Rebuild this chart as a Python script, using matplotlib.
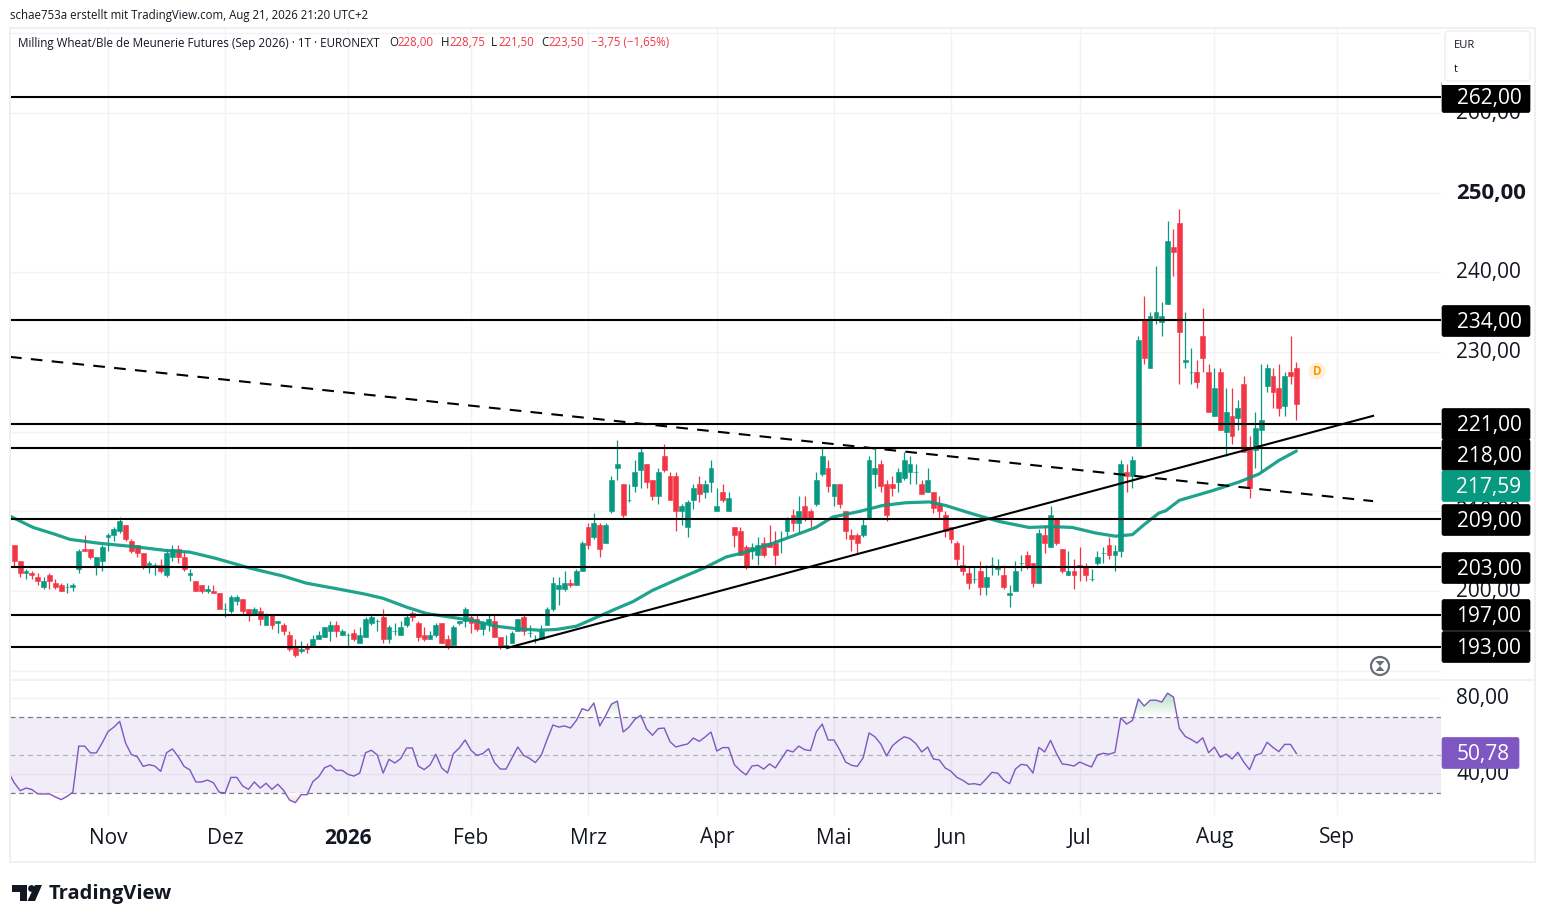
import matplotlib
matplotlib.use("Agg")
import matplotlib.pyplot as plt
from matplotlib.patches import Rectangle, Circle, Polygon, FancyBboxPatch
from matplotlib.path import Path
from matplotlib.colors import LinearSegmentedColormap
from matplotlib.transforms import ScaledTranslation
import numpy as np

FONT = "Open Sans"
plt.rcParams["font.family"] = [FONT, "DejaVu Sans"]

GREEN = "#089981"
RED = "#f23645"
PURPLE = "#7e57c2"
GRID = "#f2f2f3"

# daily candles
opens = [205.75,203.75,202.25,202.25,201.75,200.5,202,201,200.75,200.5,
         200.5,202.75,205.25,205.25,203,203.75,206.75,207,207.5,208.25,
         206.25,205.75,204.75,203.25,203,203.25,202,204.25,205.25,204.25,
         202,201.25,200.75,200,200,199.75,197.75,197.5,198.75,199,
         197.75,197,197.5,195.75,197,196,195.75,194.5,193,192.5,
         193,193,194,194.25,195,195.75,194.5,194.5,194.75,193.5,
         194.25,196,196.25,196.75,194,195,194.5,195.75,197.25,196,
         194.5,194,194.5,196,194,193.25,196,196.25,196.75,196.5,
         195.25,196,196.25,194.25,193,193.5,195,196.75,194.75,194,
         194,195.75,197.75,200.25,200.25,201,200.75,202.5,208,206.75,
         208.25,206,210,215.5,213.5,211.5,213.25,215.25,216,214,
         212,217,214.5,214.5,210,208,211.5,213.5,212.5,213.75,
         210,212.5,210,208,207.5,205.5,205,204.5,206,206,
         206,206.5,207.5,209.5,208.5,210.75,210,211,214.75,215.5,
         212,213.5,210,207,207,207,209,214.75,216,213.5,
         213.5,213.75,214.25,215,215,213.5,212.5,212.5,211,209.5,
         208,206,203.25,202.25,201.5,202.5,200.5,203.25,202.75,202,
         199.5,200,203.5,204.5,203.5,201,207,205.5,209,205.25,
         202,202.5,203.25,203,201.5,203.5,204.75,205.75,204.5,205,
         215,214.5,218.25,234,228,234.25,233.75,236,243.25,246.25,
         228.75,227.5,227.5,232,227.5,222,227.5,220,222,221.75,
         226,218,217.75,220.25,225.75,227,225.5,223.25,227.5,228]
highs = [205.75,203.75,202.75,202.5,202.25,201.75,202.25,201.5,201,201,
         201,205.25,207,205.25,204.25,205.75,207.25,208,209.25,208.25,
         206.5,205.75,204.75,203.75,203.5,204,205.25,205.75,205.75,205,
         202.75,201.25,200.75,200.75,200.75,199.75,198.5,199.5,199.5,199,
         197.75,198,198,197.25,197,196.25,196,195,194,193.75,
         193.5,194.5,195,195.5,196.25,196.25,195.25,194.75,195.25,195.5,
         196.75,197,196.5,197.75,195.75,196,196.25,197,197.5,196.25,
         195.5,195,196,196,194.5,195.75,196.25,198,197,197,
         196.25,197,197,194.25,194.5,195,196.5,197,195.75,194.5,
         195.75,198,201.75,201.75,202.5,201.5,202.75,206.25,208.5,209.75,
         208.5,208.5,214.5,219,213.5,213.5,216.5,218,216,214,
         215.5,218.5,215,215,211,211.5,213.5,214.5,214,216.5,
         213,213.5,212.5,208,208,205.75,206,206.75,206.75,208.25,
         207.5,207.5,209.25,210.25,212,212,210.25,215,218,216.5,
         213.5,213.5,210,207.75,207.25,209,217,218,216.5,214,
         214.5,215.5,217.5,217,216,214,215.5,212.5,212,210,
         208,206.25,205.75,203,203,203.75,203.25,204.25,204,203.25,
         200.75,203.75,204.5,205,203.5,207.75,208.25,210.75,209,205.25,
         205,204,205.5,203.5,202.75,205,205.5,206.75,205.75,216.5,
         216,217,232,237,235,240.75,236.25,246.5,245.5,248,
         235,230.5,229,235.5,228.5,228,228,225.5,225.5,224,
         227,219.5,222.5,228.5,228.5,228,228.5,227.5,232,228.75]
lows = [203,201.75,201.5,201.5,200.75,200.25,200.25,200.25,200,199.75,
        200,202.25,205,204,202,202.5,205,206.25,207.25,206.25,
        204.75,204.25,202.75,202.25,202,202.25,201.75,203.75,203.5,202.5,
        201.25,200,199.75,199.75,199.75,197.75,196.75,197.25,198.25,197,
        196.25,197,195.75,195.75,195.25,194.75,194.5,192.5,191.75,192.25,
        192.25,193,194,194.25,193.75,194.25,194.5,193,193.75,193.5,
        194.25,195.75,195,193.5,193.5,194.5,194.5,195.5,196.25,193.75,
        193.75,194,194.25,193.5,192.75,193.25,195.75,195.5,194.75,195,
        194.5,195,194.25,192.75,192.75,193.5,195,194.5,194.25,193.5,
        194,195.75,197.5,198.25,200,200.5,200.75,202.5,205.25,206.5,
        204.25,206,209.75,214,209,211.25,212.5,213,213,211.5,
        211,215,211.5,207.5,208.25,206.75,210.25,211.25,211.75,212.5,
        210,211.25,210,205.5,204.5,202.75,204,203.25,204.25,205.5,
        203.25,204.75,206.75,207.5,207.25,208.75,208,210.75,214.5,212.5,
        210.75,210.5,206.5,205,204.75,206.75,209,213,212.5,208.75,
        212,212.5,214,213.5,213.5,212.25,212.5,209.75,209,206.75,
        206,203,202,200.25,201,199.5,199.5,202,202,200.25,
        198,200,202.5,202.75,200.5,201,204.75,205.5,205.75,202.25,
        202,200.25,201.25,201.25,201.25,203.25,203.5,204,202.5,204.25,
        212.5,213,218.25,228.5,228,233.5,232,236,239.5,226,
        228,226,225.5,227.5,222.5,222,220.25,217,218.5,220.25,
        217.5,211.75,215.5,215,225,223,222,222,226,221.5]
closes = [203.75,202.25,202.5,202,201.25,201.25,201.25,200.5,200,200.5,
          200.75,205,205,204.25,204.25,205.5,207,207.75,208.75,206.5,
          205,204.75,203,203.5,203.25,202.5,204.75,205.25,204.25,202.75,
          202.25,200,200,200.25,199.75,197.75,197.75,199.25,199.25,197.5,
          197,197.75,196.5,197,195.75,196.25,195,192.75,192,192.75,
          192.75,194,194.5,195.5,195.75,195,195,194.5,194,194.5,
          196.5,196.75,196.25,194,195.5,195,195.5,196.75,196.75,194.25,
          194,194.5,195.75,193.5,193,195.5,196.25,197.75,196,195.25,
          196,196.5,194.25,193,193.25,194.75,196.5,195,194.75,194,
          195,197.75,201,200.75,201,200.75,202.5,206,205.75,208.5,
          205.25,208.25,214,216,209.5,211.5,215,217.5,213.75,212,
          215,215.25,211.5,210,210.75,211.25,213,212.25,213.5,215.5,
          210.75,211.5,211.75,207,204.5,203,205.5,205.75,204.5,205.5,
          204.5,206.5,209,208.5,210,209,209,214,217,213.25,
          213.5,211,207.5,206.5,206,208.25,216.5,215.5,213.25,209.5,
          213,215,216.5,216,215,212.25,214,210.5,210,207.5,
          206.5,204,202.5,201,201.5,200.5,201.75,203.25,203,200.5,
          199.75,202.5,203.5,203,201,207.25,206,209.5,206,202.5,
          202.5,202,203,202,201.5,204.25,204.75,204.5,205,216,
          214.5,216.5,231.5,229.25,234.5,235,234.5,244,242.5,232.5,
          229,227.5,226.25,229.25,222.5,225.5,220.25,222.5,219.5,223,
          217.5,213,220.5,221.5,228,225,223,227,227,223.5]

# moving average, sampled by eye along the curve
ma_idx = [-0.7,3.2,6.7,9.5,14.6,20.3,26,30,34.5,40.2,45.9,49.9,54.4,57.3,60.1,63,67,70.4,74.9,78.4,
          82.3,85.7,89.7,92.6,96,99.4,102.8,105.7,109,113.6,118.1,121.6,125,129.5,132.9,136.9,139.8,
          144.3,148.3,152.3,156.3,159.1,163.7,168.2,173.3,177.3,180.7,184.7,188.1,191,192.9,195.5,196.7,
          199,204.6,209.2,212.6,216,219]
ma_vals = [209.4,208,207.2,206.5,206,205.6,205.1,204.9,204.1,202.9,201.9,201,200.4,200,199.6,199.1,198,197.2,196.7,196.3,
           195.6,195.3,195.1,195.2,195.6,196.7,197.8,198.7,200.1,201.6,203,204.3,204.9,206,206.9,208,209.3,
           210,210.75,211.1,211.2,210.75,209.7,208.75,208,208.1,208,207.3,206.9,207.1,208.3,209.8,210.1,
           211.4,212.6,213.7,214.7,216.4,217.59]

# RSI per candle, rsi_before is the value just left of the first candle
rsi_before = 40.9
rsi = [35.3,31.2,32.6,31.8,29.5,29.5,29.5,27.9,26.5,28.2,
       30.4,54.7,54.7,51.1,51.1,56.3,62.3,64.7,67.7,56.3,
       50.2,49.1,44.0,44.9,44.2,41.4,51.2,53.2,49.1,44.0,
       42.1,35.8,35.8,36.8,35.4,30.4,30.0,38.2,38.2,33.7,
       31.9,35.8,32.6,35.1,31.9,34.6,31.4,26.3,24.9,29.1,
       29.1,36.0,38.6,43.3,44.6,41.9,41.9,39.8,38.9,40.5,
       51.2,52.5,50.0,40.5,47.7,45.8,48.1,53.7,53.7,44.2,
       42.3,44.7,50.4,43.2,40.5,50.7,53.7,57.9,52.5,49.8,
       50.7,53.3,46.1,42.6,42.6,48.4,54.2,49.8,48.2,46.0,
       49.8,58.1,65.8,64.7,65.3,64.2,68.2,74.4,73.3,77.4,
       65.3,70.7,76.8,78.4,62.1,64.7,68.8,70.9,63.7,60.4,
       63.9,64.2,57.0,54.2,55.1,55.8,58.9,57.2,59.5,62.1,
       52.1,53.9,53.9,44.9,41.8,39.5,44.2,44.6,42.6,45.3,
       43.2,47.9,52.6,51.6,54.7,52.8,52.3,62.3,66.3,57.9,
       57.9,52.6,46.3,44.6,44.0,48.6,61.6,59.6,55.8,49.5,
       54.9,57.5,59.6,58.6,56.0,51.6,54.2,47.9,47.4,43.2,
       41.4,38.2,36.7,34.6,34.9,34.2,37.4,40.9,40.4,36.7,
       34.9,42.6,45.1,44.6,40.5,54.0,51.6,57.7,50.9,45.3,
       44.9,44.2,46.3,44.9,43.7,50.0,50.9,50.4,51.4,69.5,
       66.3,68.2,79.5,75.8,78.8,78.9,77.9,82.6,80.5,64.0,
       59.8,58.2,56.3,59.1,51.2,54.2,48.8,50.5,47.9,51.4,
       46.3,42.3,49.8,50.9,56.7,54.0,51.8,55.6,55.6,50.78]

levels = [262, 234, 221, 218, 209, 203, 197, 193]
level_labels = ["262,00", "234,00", "221,00", "218,00", "209,00", "203,00", "197,00", "193,00"]
level_label_y = [97, 321, 424, 455, 520, 568, 615, 647]

price_ticks = [190, 200, 210, 220, 230, 240, 250, 260, 270]
month_labels = ["Nov", "Dez", "2026", "Feb", "Mrz", "Apr", "Mai", "Jun", "Jul", "Aug", "Sep"]
month_idx = [16, 36, 57, 78, 98, 120, 140, 160, 182, 205, 226]

# trend lines as (index, price) ends
dash_line = ([-0.74, 232.1], [229.4, 211.3])
up_line = ([84.3, 232.1], [192.9, 222])

W, H = 1545, 923
fig = plt.figure(figsize=(W / 100, H / 100), dpi=100, facecolor="white")
up2 = ScaledTranslation(0, 0.02, fig.dpi_scale_trans)


def px_axes(left, top, right, bottom):
    return fig.add_axes([left / W, (H - bottom) / H, (right - left) / W, (bottom - top) / H])


x_pos = np.arange(len(opens))
xlim = (-0.74, 243.7)

# price pane
ax = px_axes(10, 28, 1441, 679)
ax.set_xlim(xlim)
ax.set_ylim(188.98, 270.67)
for s in ax.spines.values():
    s.set_visible(False)
ax.set_axisbelow(True)
ax.grid(True, color=GRID, lw=1.0)
ax.set_xticks(month_idx)
ax.tick_params(axis="x", length=0, labelbottom=False)
ax.yaxis.tick_right()
ax.set_yticks(price_ticks[1:-1])
ax.set_yticklabels(["%d,00" % p for p in price_ticks[1:-1]], fontsize=15, color="#131722")
ax.get_yticklabels()[5].set_fontweight("bold")
ax.get_yticklabels()[5].set_fontsize(16)
ax.tick_params(axis="y", length=0, pad=11)
for lab in ax.get_yticklabels():
    lab.set_transform(lab.get_transform() + up2)
for p in (price_ticks[0], price_ticks[-1]):
    ax.axhline(p, color=GRID, lw=1.0, zorder=0)

o = np.array(opens)
c = np.array(closes)
cols = [GREEN if b >= a else RED for a, b in zip(opens, closes)]
ax.vlines(x_pos, lows, highs, colors=cols, lw=0.9, zorder=2)
ax.bar(x_pos, np.abs(c - o), bottom=np.minimum(o, c), width=0.82, color=cols, edgecolor=cols, lw=0.4, zorder=3)

ax.plot(ma_idx, ma_vals, color=GREEN, lw=2.3, alpha=0.9, zorder=4, solid_capstyle="round")
for lv in levels:
    ax.axhline(lv, color="black", lw=1.5, zorder=5)
ax.plot(dash_line[0], dash_line[1], color="black", lw=1.5, dashes=(5.6, 4.45), zorder=5)
ax.plot(up_line[0], up_line[1], color="black", lw=1.5, zorder=5)

# rsi pane
ax2 = px_axes(10, 680, 1441, 815)
ax2.set_xlim(xlim)
ax2.set_ylim(18.4, 89.5)
for s in ax2.spines.values():
    s.set_visible(False)
ax2.set_axisbelow(True)
ax2.set_xticks(month_idx)
ax2.set_xticklabels(month_labels, fontsize=15, color="#131722")
ax2.get_xticklabels()[2].set_fontweight("bold")
ax2.tick_params(axis="x", length=0, pad=9)
ax2.grid(True, axis="x", color=GRID, lw=1.0)
ax2.yaxis.tick_right()
ax2.set_yticks([40, 80])
ax2.set_yticklabels(["40,00", "80,00"], fontsize=15, color="#131722")
ax2.tick_params(axis="y", length=0, pad=11)
for lab in ax2.get_yticklabels():
    lab.set_transform(lab.get_transform() + up2)
ax2.grid(True, axis="y", color=GRID, lw=1.0)

ax2.axhspan(30, 70, color=PURPLE, alpha=0.11, lw=0, zorder=1)
ax2.axhline(70, color="#787b86", lw=0.9, dashes=(4, 3), zorder=2)
ax2.axhline(30, color="#787b86", lw=0.9, dashes=(4, 3), zorder=2)
ax2.axhline(50, color="#787b86", lw=0.9, dashes=(4, 3), alpha=0.5, zorder=2)

rsi_x = np.r_[-1, x_pos]
r = np.r_[rsi_before, rsi]


def fade_fill(mask, level, far, col):
    # area beyond the 70/30 band, colour fades out towards the band
    fill = ax2.fill_between(rsi_x, level, r, where=mask, interpolate=True, color="none", lw=0)
    cmap = LinearSegmentedColormap.from_list("fade", ["white", col])
    grad = np.linspace(0, 1, 64).reshape(-1, 1)
    lo, hi = sorted([level, far])
    origin = "lower" if far > level else "upper"
    im = ax2.imshow(grad, extent=[xlim[0], xlim[1], lo, hi], aspect="auto", cmap=cmap, origin=origin, zorder=2)
    im.set_clip_path(Path.make_compound_path(*fill.get_paths()), fill.get_transform())


fade_fill(r >= 70, 70, 83, "#b5dfc0")
fade_fill(r <= 30, 30, 24, "#fbd5d8")
ax2.set_xlim(xlim)
ax2.set_ylim(18.4, 89.5)
ax2.plot(rsi_x, r, color=PURPLE, lw=1.0, zorder=3)

# overlay in image pixels: frame, labels, header, logo
ov = fig.add_axes([0, 0, 1, 1])
ov.set_xlim(0, W)
ov.set_ylim(H, 0)
ov.axis("off")
ov.patch.set_alpha(0)

FRAME = "#f0f0f1"
ov.add_patch(Rectangle((10, 28), 1525, 834, fill=False, edgecolor=FRAME, lw=1.4))
ov.plot([10, 1535], [680, 680], color=FRAME, lw=1.2)


def price_box(y, txt, col, right=1530):
    ov.add_patch(FancyBboxPatch((1442, y - 15.5), right - 1442, 31, boxstyle="round,pad=0,rounding_size=2",
                                facecolor=col, edgecolor=col, lw=0.5, zorder=6))
    ov.text(1489 if right == 1530 else 1483, y + 1.5, txt, color="white", fontsize=15, ha="center", va="center", zorder=7)


for y, t in zip(level_label_y, level_labels):
    price_box(y, t, "black")
price_box(486, "217,59", GREEN)
price_box(753, "50,78", PURPLE, right=1519)

# currency box
ov.add_patch(Rectangle((1442, 29), 92, 56, facecolor="white", edgecolor="none", zorder=8))
ov.add_patch(FancyBboxPatch((1445, 31), 85, 50, boxstyle="round,pad=0,rounding_size=4",
                            facecolor="white", edgecolor=FRAME, lw=1.2, zorder=9))
ov.text(1454, 45, "EUR", fontsize=8, color="#131722", va="center", zorder=10)
ov.text(1454, 70, "t", fontsize=8, color="#131722", va="center", zorder=10)

# header
ov.text(10, 15, "schae753a erstellt mit TradingView.com, Aug 21, 2026 21:20 UTC+2", fontsize=8.3, color="#131722", va="center")
ov.text(18, 43, "Milling Wheat/Ble de Meunerie Futures (Sep 2026) \u00b7 1T \u00b7 EURONEXT", fontsize=8.35, color="#131722", va="center")
for x, t, col in [(389, "O", "#131722"), (397, "228,00", RED), (441, "H", "#131722"), (449, "228,75", RED),
                  (491, "L", "#131722"), (498, "221,50", RED), (541, "C", "#131722"), (548, "223,50", RED),
                  (591, "\u22123,75 (\u22121,65%)", RED)]:
    ov.text(x, 43, t, fontsize=8.3, color=col, va="center")

# D marker and hourglass
ov.add_patch(Circle((1317, 371), 8.5, facecolor="#fff0dc", edgecolor="none", zorder=6))
ov.text(1317, 371.5, "D", fontsize=8.5, color="#ff9800", ha="center", va="center", fontweight="bold", zorder=7)
ov.add_patch(Circle((1380, 666), 9, facecolor="white", edgecolor="#6a6d78", lw=1.6, zorder=6))
ov.add_patch(Polygon([(1375.5, 661), (1384.5, 661), (1380, 666), (1384.5, 671), (1375.5, 671), (1380, 666)],
                     facecolor="#6a6d78", edgecolor="none", zorder=7))

# logo
ov.add_patch(Polygon([(12, 885), (27, 885), (27, 901), (20, 901), (20, 892), (12, 892)], facecolor="#131722", edgecolor="none"))
ov.add_patch(Circle((31.5, 888.5), 3.4, facecolor="#131722", edgecolor="none"))
ov.add_patch(Polygon([(35, 885), (42, 885), (35, 901), (27.5, 901)], facecolor="#131722", edgecolor="none"))
ov.text(49, 893.5, "TradingView", fontsize=14.5, fontweight="bold", color="#131722", va="center")

fig.savefig("out.png", dpi=100)
